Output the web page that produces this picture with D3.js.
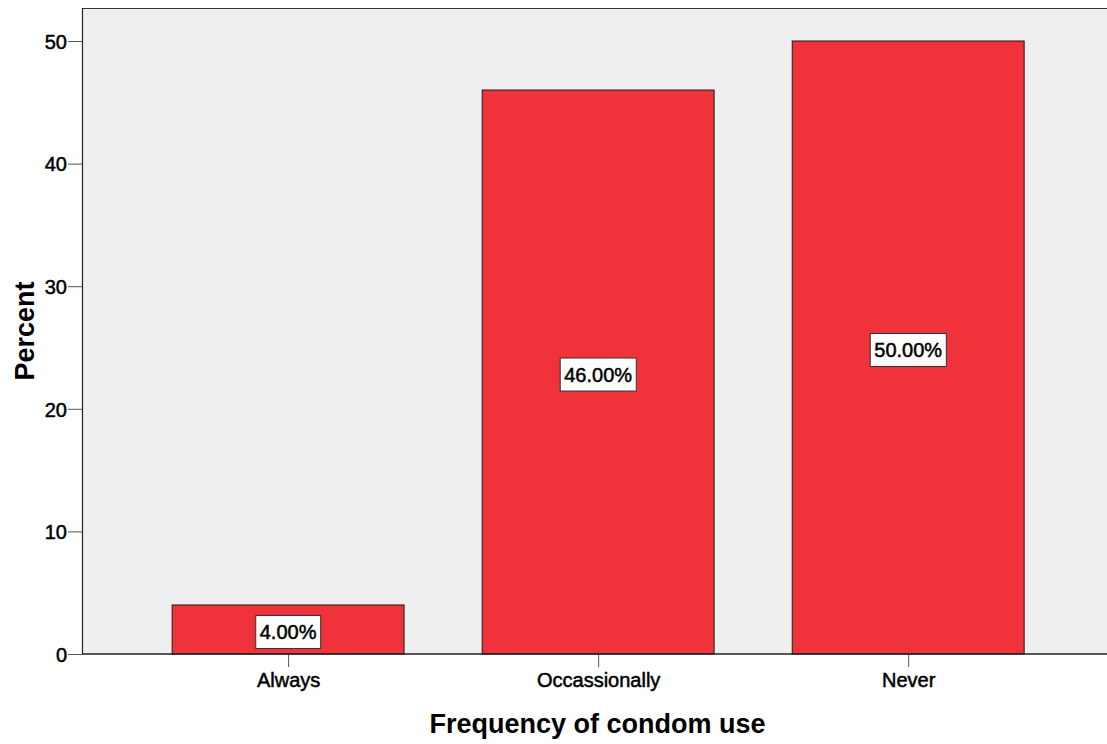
<!DOCTYPE html>
<html>
<head>
<meta charset="utf-8">
<script src="https://cdn.jsdelivr.net/npm/d3@7"></script>
<style>
  html, body { margin: 0; padding: 0; background: #ffffff; }
  svg { display: block; font-family: "Liberation Sans", Arial, sans-serif; }
  .heavy { stroke: #000; stroke-width: 0.5px; paint-order: stroke; }
</style>
</head>
<body>
<svg id="chart" width="1107" height="744"></svg>
<script>
// Frequency of condom use, percent of respondents
const categories = ["Always", "Occassionally", "Never"];
const percents = [4, 46, 50];
const valueLabels = ["4.00%", "46.00%", "50.00%"];
const yTicks = [0, 10, 20, 30, 40, 50];

const svg = d3.select("#chart");
const frame = { left: 82, top: 8, right: 1107, bottom: 654 };

const x = d3.scalePoint()
  .domain(categories)
  .range([frame.left, frame.right])
  .padding(0.653)
  .align(0.509);
const barWidth = x.step() * 0.748;

const y = d3.scaleLinear()
  .domain([0, 50])
  .range([frame.bottom, 41]);

// plot background
svg.append("rect")
  .attr("x", frame.left).attr("y", frame.top)
  .attr("width", frame.right - frame.left)
  .attr("height", frame.bottom - frame.top)
  .attr("fill", "#efefef");

// top border
svg.append("line")
  .attr("x1", frame.left).attr("x2", frame.right)
  .attr("y1", frame.top + 0.5).attr("y2", frame.top + 0.5)
  .attr("stroke", "#333").attr("stroke-width", 1.2);

// bars
svg.selectAll("rect.bar")
  .data(percents)
  .join("rect")
  .attr("class", "bar")
  .attr("x", (d, i) => x(categories[i]) - barWidth / 2)
  .attr("y", d => y(d))
  .attr("width", barWidth)
  .attr("height", d => y(0) - y(d))
  .attr("fill", "#f0333b")
  .attr("stroke", "#1a1a1a")
  .attr("stroke-width", 1);

// y axis
const yAxis = svg.append("g")
  .attr("transform", `translate(${frame.left},0)`)
  .call(d3.axisLeft(y).tickValues(yTicks).tickSize(14).tickPadding(1).tickSizeOuter(0));
yAxis.select(".domain").remove();
yAxis.append("line")
  .attr("x1", 0.5).attr("x2", 0.5)
  .attr("y1", frame.top).attr("y2", frame.bottom)
  .attr("stroke", "#222").attr("stroke-width", 1.2);
yAxis.selectAll(".tick line").attr("stroke", "#555");
yAxis.selectAll(".tick text")
  .attr("class", "heavy")
  .attr("fill", "#000")
  .attr("dy", "0.36em")
  .style("font-size", "20px")
  .style("font-family", "'Liberation Sans', Arial, sans-serif");

// x axis
const xAxis = svg.append("g")
  .attr("transform", `translate(0,${frame.bottom})`)
  .call(d3.axisBottom(x).tickSize(13).tickPadding(6).tickSizeOuter(0));
xAxis.select(".domain").remove();
xAxis.append("line")
  .attr("x1", frame.left).attr("x2", frame.right)
  .attr("y1", 0).attr("y2", 0)
  .attr("stroke", "#222").attr("stroke-width", 1.4);
xAxis.selectAll(".tick line").attr("stroke", "#555");
xAxis.selectAll(".tick text")
  .attr("class", "heavy")
  .attr("fill", "#000")
  .style("font-size", "20px")
  .style("font-family", "'Liberation Sans', Arial, sans-serif");

// value labels in white boxes at the middle of each bar
const labels = svg.selectAll("g.vlabel")
  .data(percents)
  .join("g")
  .attr("class", "vlabel")
  .attr("transform", (d, i) => `translate(${x(categories[i])},${y(d / 2) + 2.5})`);

labels.append("text")
  .attr("class", "heavy")
  .attr("text-anchor", "middle")
  .attr("dy", "0.36em")
  .style("font-size", "20px")
  .attr("fill", "#000")
  .text((d, i) => valueLabels[i]);

labels.each(function () {
  const g = d3.select(this);
  const bb = g.select("text").node().getBBox();
  const padX = 4;
  const h = 33;
  g.insert("rect", "text")
    .attr("x", bb.x - padX)
    .attr("y", -h / 2)
    .attr("width", bb.width + padX * 2)
    .attr("height", h)
    .attr("fill", "#ffffff")
    .attr("stroke", "#333")
    .attr("stroke-width", 1);
});

// axis titles
svg.append("text")
  .attr("transform", `translate(34,${(frame.top + frame.bottom) / 2}) rotate(-90)`)
  .attr("text-anchor", "middle")
  .style("font-size", "27px")
  .style("font-weight", "bold")
  .attr("fill", "#000")
  .text("Percent");

svg.append("text")
  .attr("x", 597.5)
  .attr("y", 733)
  .attr("text-anchor", "middle")
  .style("font-size", "27px")
  .style("font-weight", "bold")
  .attr("fill", "#000")
  .text("Frequency of condom use");
</script>
</body>
</html>
